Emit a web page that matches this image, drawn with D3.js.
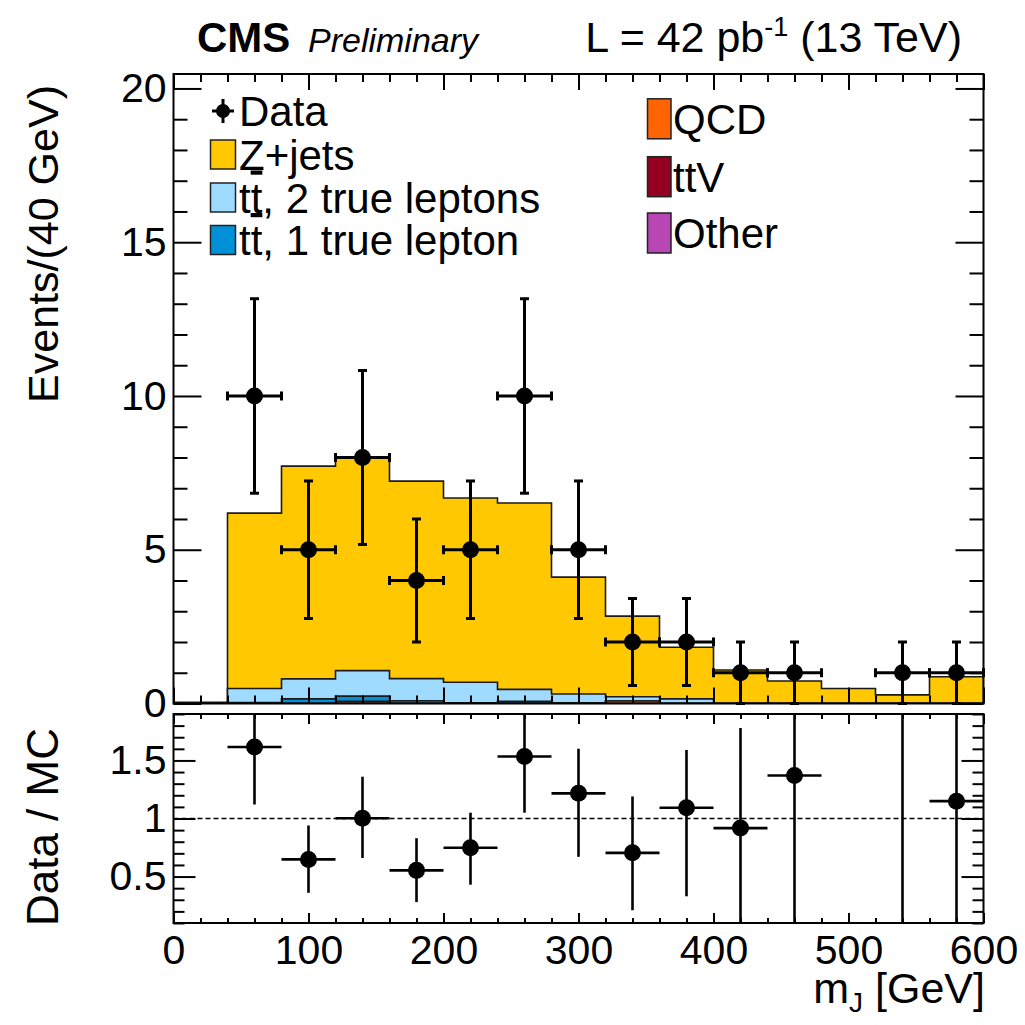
<!DOCTYPE html>
<html>
<head>
<meta charset="utf-8">
<script src="https://cdn.jsdelivr.net/npm/d3@7"></script>
<style>
  html, body { margin: 0; padding: 0; background: #fff; }
  svg { display: block; }
  text { font-family: "Liberation Sans", Arial, Helvetica, sans-serif; fill: #000; }
</style>
</head>
<body>
<svg id="chart" width="1025" height="1025"></svg>
<script>
// m_J distribution, 40 GeV bins from 0 to 600 GeV
const binEdges   = [0, 40, 80, 120, 160, 200, 240, 280, 320, 360, 400, 440, 480, 520, 560, 600];
const binCenters = [20, 60, 100, 140, 180, 220, 260, 300, 340, 380, 420, 460, 500, 540, 580];

// Observed events per bin
const dataCounts = [0, 10, 5, 8, 4, 5, 10, 5, 2, 2, 1, 1, 0, 1, 1];

// Simulated backgrounds per bin (stacked, bottom to top: other, ttV, QCD, tt 1l, tt 2l, Z+jets)
const otherMC = [0, 0, 0, 0, 0, 0, 0, 0, 0, 0, 0, 0, 0, 0, 0];
const ttvMC   = [0, 0, 0, 0, 0, 0, 0, 0, 0, 0, 0, 0, 0, 0, 0];
const qcdMC   = [0, 0, 0, 0.07, 0, 0, 0, 0, 0.08, 0, 0, 0, 0, 0, 0];
const tt1lMC  = [0, 0.03, 0.15, 0.17, 0.09, 0.02, 0.07, 0.02, 0, 0, 0, 0, 0, 0, 0];
const tt2lMC  = [0, 0.46, 0.65, 0.83, 0.72, 0.67, 0.39, 0.29, 0.14, 0.15, 0, 0, 0, 0, 0];
const zjetsMC = [0.04, 5.70, 6.92, 6.91, 6.42, 5.99, 6.06, 3.80, 2.62, 1.68, 1.09, 0.73, 0.49, 0.28, 0.87];

// Data / MC uncertainty band edges per bin
const ratioErrLow  = [null, 1.12, 0.36, 0.66, 0.28, 0.43, 1.05, 0.67, 0.21, 0.33, 0.0, 0.0, null, 0.0, 0.0];
const ratioErrHigh = [null, 2.12, 0.94, 1.36, 0.83, 1.05, 2.02, 1.60, 1.19, 1.59, 1.78, 2.0, null, 7.0, 2.3];

// Axis ticks
const mainYTicks  = [0, 5, 10, 15, 20];
const ratioYTicks = [0.5, 1, 1.5];
const xTicks      = [0, 100, 200, 300, 400, 500, 600];

// Legend entries
const legendLeft  = ["Data", "Z+jets", "tt2", "tt1"];
const legendRight = ["QCD", "ttV", "Other"];

const colors = {
  zjets: "#ffc800",
  tt2l:  "#9fdaff",
  tt1l:  "#0090d8",
  qcd:   "#ff6400",
  ttv:   "#960020",
  other: "#b846b4"
};

const svg = d3.select("#chart");

const x = d3.scaleLinear().domain([0, 600]).range([173.5, 983.5]);
const yMain = d3.scaleLinear().domain([0, 20.47]).range([703.5, 74]);
const yRatio = d3.scaleLinear().domain([0.1, 1.9]).range([923, 714]);

const nBins = binCenters.length;

// cumulative stack
const layers = [
  { key: "other", vals: otherMC },
  { key: "ttv",   vals: ttvMC },
  { key: "qcd",   vals: qcdMC },
  { key: "tt1l",  vals: tt1lMC },
  { key: "tt2l",  vals: tt2lMC },
  { key: "zjets", vals: zjetsMC }
];
let running = new Array(nBins).fill(0);
layers.forEach(l => {
  l.lo = running.slice();
  l.hi = running.map((v, i) => v + l.vals[i]);
  running = l.hi;
});
const totalMC = running;

// ---------- main panel ----------
svg.append("clipPath").attr("id", "clipMain")
  .append("rect").attr("x", x(0)).attr("y", yMain(20.47))
  .attr("width", x(600) - x(0)).attr("height", yMain(0) - yMain(20.47));

const gStack = svg.append("g").attr("clip-path", "url(#clipMain)");

const area = d3.area()
  .x(d => x(d[0]))
  .y0(d => yMain(d[1]))
  .y1(d => yMain(d[2]))
  .curve(d3.curveStepAfter);

const stepLine = d3.line().x(d => x(d[0])).y(d => yMain(d[1]));

// draw from top of stack down so each cumulative histogram sits over the previous
layers.slice().reverse().forEach(l => {
  const pts = binEdges.slice(0, nBins).map((e, i) => [e, 0, l.hi[i]]);
  pts.push([600, 0, l.hi[nBins - 1]]);
  gStack.append("path")
    .attr("d", area(pts))
    .attr("fill", colors[l.key]);
  // step outline starting and ending on the baseline
  const out = [[0, 0]];
  for (let i = 0; i < nBins; i++) {
    out.push([binEdges[i], l.hi[i]]);
    out.push([binEdges[i + 1], l.hi[i]]);
  }
  out.push([600, 0]);
  gStack.append("path")
    .attr("d", stepLine(out))
    .attr("fill", "none")
    .attr("stroke", "#1a1a1a")
    .attr("stroke-width", 1.6);
});

// data points with sqrt(N) errors
const gData = svg.append("g");
binCenters.forEach((c, i) => {
  const n = dataCounts[i];
  if (n <= 0) return;
  const err = Math.sqrt(n);
  const cx = x(c), cy = yMain(n);
  const yT = yMain(n + err), yB = yMain(Math.max(n - err, 0));
  const xL = x(binEdges[i]), xR = x(binEdges[i + 1]);
  const g = gData.append("g").attr("stroke", "#000").attr("stroke-width", 3);
  g.append("line").attr("x1", cx).attr("x2", cx).attr("y1", yT).attr("y2", yB);
  g.append("line").attr("x1", xL).attr("x2", xR).attr("y1", cy).attr("y2", cy);
  g.append("line").attr("x1", cx - 4.5).attr("x2", cx + 4.5).attr("y1", yT).attr("y2", yT);
  g.append("line").attr("x1", cx - 4.5).attr("x2", cx + 4.5).attr("y1", yB).attr("y2", yB);
  g.append("line").attr("x1", xL).attr("x2", xL).attr("y1", cy - 4.5).attr("y2", cy + 4.5);
  g.append("line").attr("x1", xR).attr("x2", xR).attr("y1", cy - 4.5).attr("y2", cy + 4.5);
  gData.append("circle").attr("cx", cx).attr("cy", cy).attr("r", 8.5).attr("fill", "#000");
});

// ---------- axes helpers ----------
function styleAxis(g) {
  g.select(".domain").remove();
  g.selectAll(".tick line").attr("stroke", "#000").attr("stroke-width", 2);
  g.selectAll(".tick text").attr("font-size", 41).attr("fill", "#000")
    .attr("font-family", "'Liberation Sans', Arial, Helvetica, sans-serif");
}

// main panel axes
const mainMinor = d3.range(0, 21, 1).filter(v => v % 5);
svg.append("g").attr("transform", `translate(${x(0)},0)`)
  .call(d3.axisLeft(yMain).tickValues(mainYTicks).tickSize(-28).tickPadding(7).tickSizeOuter(0))
  .call(styleAxis);
svg.append("g").attr("transform", `translate(${x(0)},0)`)
  .call(d3.axisLeft(yMain).tickValues(mainMinor).tickSize(-14).tickFormat("").tickSizeOuter(0))
  .call(styleAxis);
svg.append("g").attr("transform", `translate(${x(600)},0)`)
  .call(d3.axisRight(yMain).tickValues(mainYTicks).tickSize(-28).tickFormat("").tickSizeOuter(0))
  .call(styleAxis);
svg.append("g").attr("transform", `translate(${x(600)},0)`)
  .call(d3.axisRight(yMain).tickValues(mainMinor).tickSize(-14).tickFormat("").tickSizeOuter(0))
  .call(styleAxis);

const xMinor = d3.range(0, 601, 20).filter(v => v % 100);
[[yMain(20.47), d3.axisTop], [yMain(0), d3.axisBottom]].forEach(([yy, ax]) => {
  svg.append("g").attr("transform", `translate(0,${yy})`)
    .call(ax(x).tickValues(xTicks).tickSize(-16).tickFormat("").tickSizeOuter(0)).call(styleAxis);
  svg.append("g").attr("transform", `translate(0,${yy})`)
    .call(ax(x).tickValues(xMinor).tickSize(-8).tickFormat("").tickSizeOuter(0)).call(styleAxis);
});

// main frame
svg.append("rect")
  .attr("x", x(0)).attr("y", yMain(20.47))
  .attr("width", x(600) - x(0)).attr("height", yMain(0) - yMain(20.47))
  .attr("fill", "none").attr("stroke", "#000").attr("stroke-width", 2);

// ---------- ratio panel ----------
const ratioMinor = d3.range(1, 20).map(v => v / 10).filter(v => Math.abs(v * 2 - Math.round(v * 2)) > 1e-6);

svg.append("g").attr("transform", `translate(${x(0)},0)`)
  .call(d3.axisLeft(yRatio).tickValues(ratioYTicks).tickSize(-22).tickPadding(7).tickSizeOuter(0)
    .tickFormat(d => String(d)))
  .call(styleAxis);
svg.append("g").attr("transform", `translate(${x(0)},0)`)
  .call(d3.axisLeft(yRatio).tickValues(ratioMinor).tickSize(-11).tickFormat("").tickSizeOuter(0))
  .call(styleAxis);
svg.append("g").attr("transform", `translate(${x(600)},0)`)
  .call(d3.axisRight(yRatio).tickValues(ratioYTicks).tickSize(-22).tickFormat("").tickSizeOuter(0))
  .call(styleAxis);
svg.append("g").attr("transform", `translate(${x(600)},0)`)
  .call(d3.axisRight(yRatio).tickValues(ratioMinor).tickSize(-11).tickFormat("").tickSizeOuter(0))
  .call(styleAxis);

svg.append("g").attr("transform", `translate(0,${yRatio(0.1)})`)
  .call(d3.axisBottom(x).tickValues(xTicks).tickSize(-10).tickPadding(12).tickSizeOuter(0))
  .call(styleAxis);
svg.append("g").attr("transform", `translate(0,${yRatio(0.1)})`)
  .call(d3.axisBottom(x).tickValues(xMinor).tickSize(-5).tickFormat("").tickSizeOuter(0))
  .call(styleAxis);
svg.append("g").attr("transform", `translate(0,${yRatio(1.9)})`)
  .call(d3.axisTop(x).tickValues(xTicks).tickSize(-10).tickFormat("").tickSizeOuter(0))
  .call(styleAxis);
svg.append("g").attr("transform", `translate(0,${yRatio(1.9)})`)
  .call(d3.axisTop(x).tickValues(xMinor).tickSize(-5).tickFormat("").tickSizeOuter(0))
  .call(styleAxis);

// unity reference line
svg.append("line")
  .attr("x1", x(0)).attr("x2", x(600)).attr("y1", yRatio(1)).attr("y2", yRatio(1))
  .attr("stroke", "#000").attr("stroke-width", 1.4).attr("stroke-dasharray", "5,3");

svg.append("clipPath").attr("id", "clipRatio")
  .append("rect").attr("x", x(0)).attr("y", yRatio(1.9))
  .attr("width", x(600) - x(0)).attr("height", yRatio(0.1) - yRatio(1.9));

const gRatio = svg.append("g").attr("clip-path", "url(#clipRatio)");
binCenters.forEach((c, i) => {
  if (ratioErrLow[i] === null) return;
  const r = dataCounts[i] / totalMC[i];
  const cx = x(c), cy = yRatio(r);
  gRatio.append("line").attr("x1", cx).attr("x2", cx)
    .attr("y1", yRatio(ratioErrHigh[i])).attr("y2", yRatio(ratioErrLow[i]))
    .attr("stroke", "#000").attr("stroke-width", 2.6);
  if (r <= 1.9) {
    gRatio.append("line").attr("x1", x(binEdges[i])).attr("x2", x(binEdges[i + 1]))
      .attr("y1", cy).attr("y2", cy).attr("stroke", "#000").attr("stroke-width", 2.6);
    gRatio.append("circle").attr("cx", cx).attr("cy", cy).attr("r", 8.5).attr("fill", "#000");
  }
});

svg.append("rect")
  .attr("x", x(0)).attr("y", yRatio(1.9))
  .attr("width", x(600) - x(0)).attr("height", yRatio(0.1) - yRatio(1.9))
  .attr("fill", "none").attr("stroke", "#000").attr("stroke-width", 2);

// ---------- titles ----------
svg.append("text")
  .attr("transform", `translate(58,${yMain(20.47) + 11}) rotate(-90)`)
  .attr("text-anchor", "end").attr("font-size", 43)
  .text("Events/(40 GeV)");

svg.append("text")
  .attr("transform", `translate(58,${yRatio(1.9) + 14}) rotate(-90)`)
  .attr("text-anchor", "end").attr("font-size", 44)
  .text("Data / MC");

const xt = svg.append("text")
  .attr("x", 985).attr("y", 1003).attr("text-anchor", "end").attr("font-size", 43);
xt.append("tspan").text("m");
xt.append("tspan").attr("font-size", 28).attr("dy", 9).text("J");
xt.append("tspan").attr("dy", -9).text(" [GeV]");

// header
svg.append("text").attr("x", 197).attr("y", 52).attr("font-size", 42)
  .attr("font-weight", "bold").text("CMS");
svg.append("text").attr("x", 308).attr("y", 52).attr("font-size", 34)
  .attr("font-style", "italic").text("Preliminary");
const lumi = svg.append("text").attr("x", 962).attr("y", 52)
  .attr("text-anchor", "end").attr("font-size", 43);
lumi.append("tspan").text("L = 42 pb");
lumi.append("tspan").attr("font-size", 27).attr("dy", -16).text("-1");
lumi.append("tspan").attr("dy", 16).text(" (13 TeV)");

// ---------- legend ----------
const legendFont = 42;
const leftRows = [111, 154.5, 197.5, 240];
// data entry
(function () {
  const cx = 223, cy = leftRows[0];
  const g = svg.append("g").attr("stroke", "#000").attr("stroke-width", 3);
  g.append("line").attr("x1", cx).attr("x2", cx).attr("y1", cy - 12).attr("y2", cy + 12);
  g.append("line").attr("x1", cx - 11).attr("x2", cx + 11).attr("y1", cy).attr("y2", cy);
  svg.append("circle").attr("cx", cx).attr("cy", cy).attr("r", 7).attr("fill", "#000");
})();
const leftFill = [null, colors.zjets, colors.tt2l, colors.tt1l];
legendLeft.forEach((lab, i) => {
  const cy = leftRows[i];
  if (leftFill[i]) {
    svg.append("rect").attr("x", 210.5).attr("y", cy - 14.5).attr("width", 25).attr("height", 29)
      .attr("fill", leftFill[i]).attr("stroke", "#222").attr("stroke-width", 1.5);
  }
  const t = svg.append("text").attr("x", 239).attr("y", cy + 15).attr("font-size", legendFont);
  if (lab === "tt2" || lab === "tt1") {
    t.append("tspan").text("t");
    t.append("tspan").style("text-decoration", "overline").text("t");
    t.append("tspan").text(lab === "tt2" ? ", 2 true leptons" : ", 1 true lepton");
  } else {
    t.text(lab);
  }
});

const rightRows = [118.8, 176.7, 233];
const rightFill = [colors.qcd, colors.ttv, colors.other];
legendRight.forEach((lab, i) => {
  const cy = rightRows[i];
  svg.append("rect").attr("x", 647.5).attr("y", cy - 20).attr("width", 23.5).attr("height", 40)
    .attr("fill", rightFill[i]).attr("stroke", "#222").attr("stroke-width", 1.5);
  svg.append("text").attr("x", 673).attr("y", cy + 15).attr("font-size", legendFont).text(lab);
});
</script>
</body>
</html>
